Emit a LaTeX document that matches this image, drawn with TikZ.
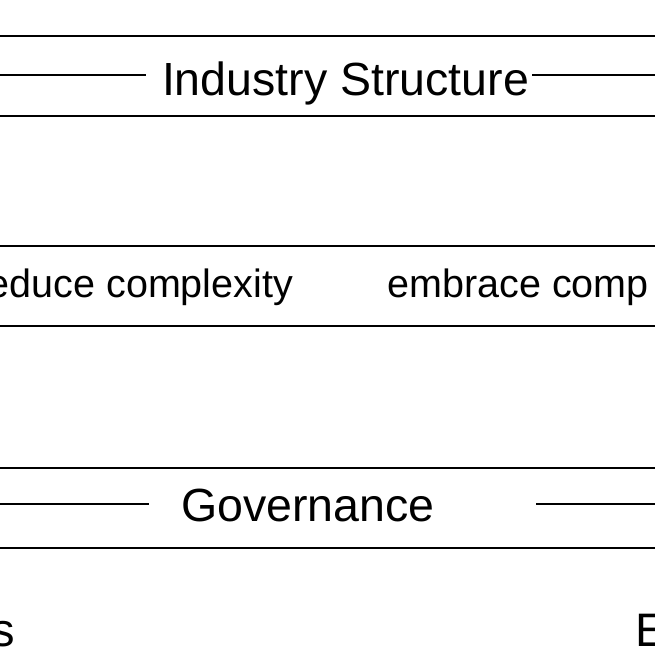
\documentclass[tikz,border=0pt]{standalone}
\usepackage{fontspec}
\setmainfont{Liberation Sans}
\begin{document}
\begin{tikzpicture}[x=1pt,y=-1pt,
  band/.style={line width=2.8pt,black},
  tick/.style={line width=2.3pt,black},
  lbl/.style={inner sep=0pt,outer sep=0pt,text=black},
  big/.style={lbl,font=\fontsize{46.5}{50}\selectfont},
  mid/.style={lbl,font=\fontsize{39.5}{44}\selectfont}]
\useasboundingbox (0,0) rectangle (655,655);
% band coordinates
\coordinate (t1l) at (0,36);   \coordinate (t1r) at (655,36);
\coordinate (t2l) at (0,116);  \coordinate (t2r) at (655,116);
\coordinate (m1l) at (0,246);  \coordinate (m1r) at (655,246);
\coordinate (m2l) at (0,326);  \coordinate (m2r) at (655,326);
\coordinate (g1l) at (0,468);  \coordinate (g1r) at (655,468);
\coordinate (g2l) at (0,548);  \coordinate (g2r) at (655,548);
% short line ends
\coordinate (iL0) at (0,75);   \coordinate (iL1) at (146,75);
\coordinate (iR0) at (532,75); \coordinate (iR1) at (655,75);
\coordinate (gL0) at (0,504);  \coordinate (gL1) at (149,504);
\coordinate (gR0) at (536,504);\coordinate (gR1) at (655,504);
% texts
\node[big,anchor=base] (ind) at (345.5,95.5) {Industry Structure};
\node[mid,anchor=base east] (red) at (293,297.5) {educe complexity};
\node[mid,anchor=base west] (emb) at (387.5,297.5) {embrace comp};
\node[big,anchor=base] (gov) at (308,521) {Governance};
\node[lbl,font=\fontsize{47}{52}\selectfont,anchor=base east] (ls) at (15,646) {s};
\node[lbl,font=\fontsize{47}{52}\selectfont,anchor=base west] (re) at (635,646) {E};
% lines
\draw[band] (t1l) -- (t1r);
\draw[band] (t2l) -- (t2r);
\draw[band] (m1l) -- (m1r);
\draw[band] (m2l) -- (m2r);
\draw[band] (g1l) -- (g1r);
\draw[band] (g2l) -- (g2r);
\draw[tick] (iL0) -- (iL1);
\draw[tick] (iR0) -- (iR1);
\draw[tick] (gL0) -- (gL1);
\draw[tick] (gR0) -- (gR1);
\end{tikzpicture}
\end{document}
